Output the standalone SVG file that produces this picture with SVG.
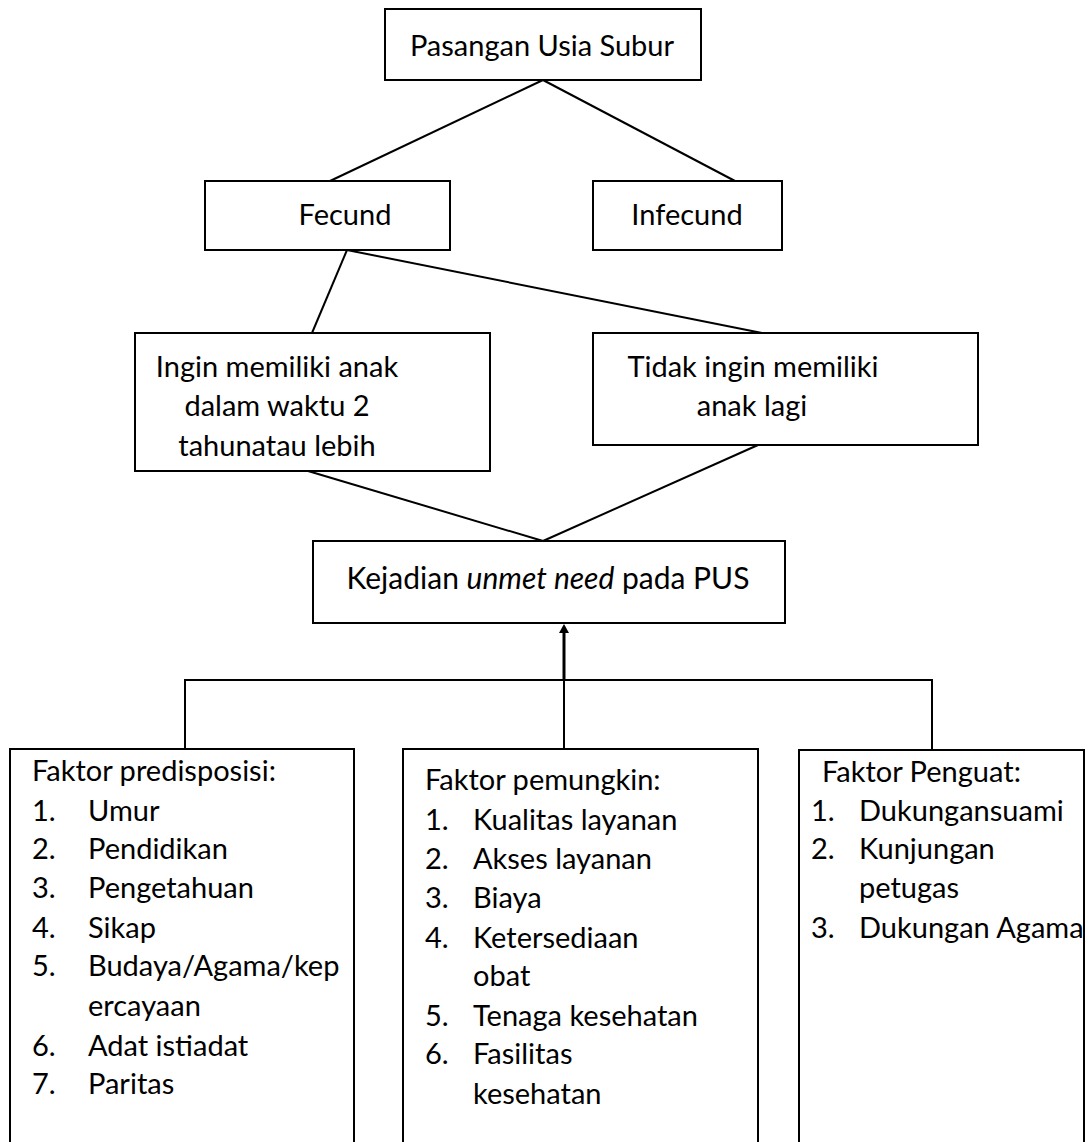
<svg xmlns="http://www.w3.org/2000/svg" width="1089" height="1142" viewBox="0 0 1089 1142">
<defs>
<style>
.box{fill:#fff;stroke:#000;stroke-width:2}
.ln{fill:none;stroke:#000;stroke-width:2}
text{font-family:Lato,"Liberation Sans",sans-serif;font-size:29px;fill:#000}
.c{text-anchor:middle}
</style>
</defs>
<rect width="1089" height="1142" fill="#fff"/>
<g id="connectors">
<line class="ln" x1="543" y1="80" x2="330" y2="181"/>
<line class="ln" x1="543" y1="80" x2="735" y2="181"/>
<line class="ln" x1="347" y1="250" x2="312" y2="333"/>
<line class="ln" x1="347" y1="250" x2="762" y2="333"/>
<line class="ln" x1="308" y1="471" x2="543" y2="541"/>
<line class="ln" x1="758" y1="445" x2="543" y2="541"/>
<line class="ln" x1="185" y1="680" x2="932" y2="680"/>
<line class="ln" x1="185" y1="679" x2="185" y2="749"/>
<line class="ln" x1="932" y1="679" x2="932" y2="749"/>
<line class="ln" x1="564" y1="749" x2="564" y2="680"/>
<line x1="564" y1="680" x2="564" y2="632" stroke="#000" stroke-width="3"/>
<path d="M559,633 L564,624 L569,633 Z" fill="#000"/>
</g>
<g id="n1">
<rect class="box" x="385" y="9" width="316" height="71"/>
<text class="c" x="542" y="56">Pasangan Usia Subur</text>
</g>
<g id="n2">
<rect class="box" x="205" y="181" width="245" height="69"/>
<text class="c" x="345" y="225">Fecund</text>
</g>
<g id="n3">
<rect class="box" x="593" y="181" width="189" height="69"/>
<text class="c" x="687" y="225">Infecund</text>
</g>
<g id="n4">
<rect class="box" x="135" y="333" width="355" height="138"/>
<text class="c" x="277" y="377">Ingin memiliki anak</text>
<text class="c" x="277" y="416">dalam waktu 2</text>
<text class="c" x="277" y="456">tahunatau lebih</text>
</g>
<g id="n5">
<rect class="box" x="593" y="333" width="385" height="112"/>
<text class="c" x="753" y="377">Tidak ingin memiliki</text>
<text class="c" x="752" y="416">anak lagi</text>
</g>
<g id="n6">
<rect class="box" x="313" y="541" width="472" height="82"/>
<text class="c" x="548" y="589" style="font-size:30px">Kejadian <tspan font-style="italic">unmet need</tspan> pada PUS</text>
</g>
<g id="n7">
<rect class="box" x="10" y="749" width="344" height="400"/>
<text x="32" y="781">Faktor predisposisi:</text>
<text x="32" y="821">1.</text><text x="88" y="821">Umur</text>
<text x="32" y="859">2.</text><text x="88" y="859">Pendidikan</text>
<text x="32" y="898">3.</text><text x="88" y="898">Pengetahuan</text>
<text x="32" y="938">4.</text><text x="88" y="938">Sikap</text>
<text x="32" y="976">5.</text><text x="88" y="976">Budaya/Agama/kep</text>
<text x="88" y="1016">ercayaan</text>
<text x="32" y="1056">6.</text><text x="88" y="1056">Adat istiadat</text>
<text x="32" y="1094">7.</text><text x="88" y="1094">Paritas</text>
</g>
<g id="n8">
<rect class="box" x="403" y="749" width="355" height="400"/>
<text x="425" y="790">Faktor pemungkin:</text>
<text x="425" y="830">1.</text><text x="473" y="830">Kualitas layanan</text>
<text x="425" y="869">2.</text><text x="473" y="869">Akses layanan</text>
<text x="425" y="908">3.</text><text x="473" y="908">Biaya</text>
<text x="425" y="948">4.</text><text x="473" y="948">Ketersediaan</text>
<text x="473" y="986">obat</text>
<text x="425" y="1026">5.</text><text x="473" y="1026">Tenaga kesehatan</text>
<text x="425" y="1064">6.</text><text x="473" y="1064">Fasilitas</text>
<text x="473" y="1104">kesehatan</text>
</g>
<g id="n9">
<rect class="box" x="799" y="750" width="285" height="400"/>
<text x="822" y="782">Faktor Penguat:</text>
<text x="811" y="821">1.</text><text x="859" y="821">Dukungansuami</text>
<text x="811" y="859">2.</text><text x="859" y="859">Kunjungan</text>
<text x="859" y="898">petugas</text>
<text x="811" y="938">3.</text><text x="859" y="938">Dukungan Agama</text>
</g>
</svg>
